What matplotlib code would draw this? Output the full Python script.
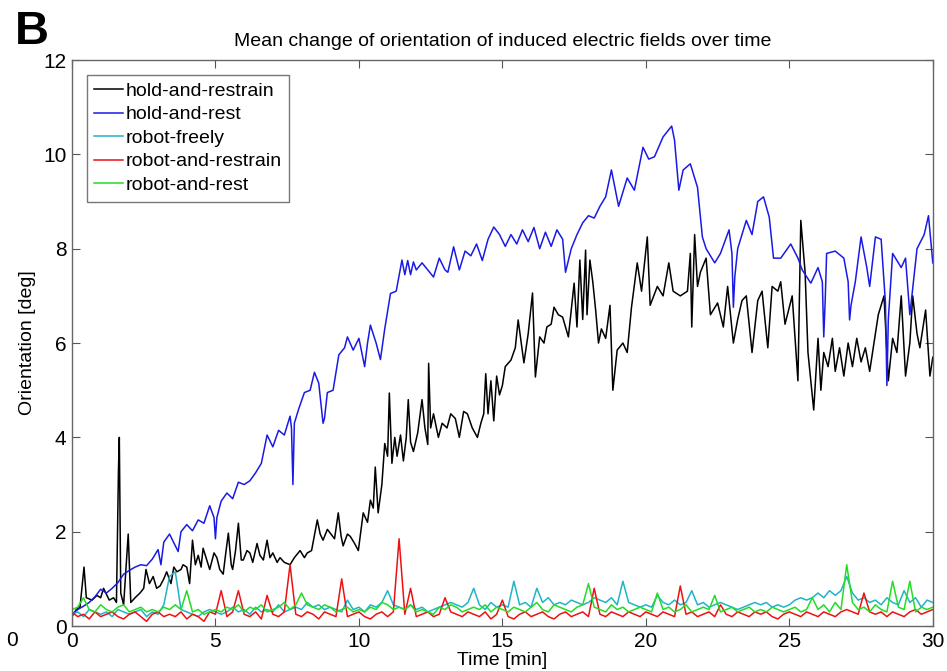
import numpy as np
import matplotlib
matplotlib.use("Agg")
import matplotlib.pyplot as plt

plt.rcParams["font.family"] = ["Liberation Sans", "DejaVu Sans"]

# hold-and-restrain (black), time [min] / orientation [deg]
restrain_t = [0.0, 0.15, 0.28, 0.42, 0.5, 0.7, 0.87, 1.0, 1.1, 1.3, 1.45, 1.55, 1.62, 1.65, 1.7, 1.8,
              1.96, 2.05, 2.2, 2.37, 2.5, 2.58, 2.7, 2.83, 2.95, 3.07, 3.2, 3.3, 3.45, 3.55, 3.66, 3.8,
              3.87, 4.0, 4.1, 4.2, 4.3, 4.4, 4.5, 4.57, 4.7, 4.8, 4.95, 5.05, 5.15, 5.27, 5.35, 5.45,
              5.55, 5.6, 5.7, 5.8, 5.9, 5.97, 6.1, 6.2, 6.3, 6.45, 6.55, 6.67, 6.8, 6.9, 7.0, 7.15,
              7.25, 7.4, 7.6, 7.75, 7.95, 8.1, 8.2, 8.35, 8.55, 8.65, 8.75, 8.9, 9.0, 9.15, 9.28, 9.38,
              9.45, 9.6, 9.7, 9.85, 9.98, 10.15, 10.3, 10.4, 10.5, 10.57, 10.67, 10.8, 10.9, 11.0, 11.06,
              11.15, 11.25, 11.33, 11.45, 11.55, 11.65, 11.72, 11.8, 11.9, 12.05, 12.2, 12.3, 12.4,
              12.43, 12.5, 12.6, 12.77, 12.9, 13.07, 13.2, 13.36, 13.5, 13.65, 13.78, 13.95, 14.13,
              14.25, 14.35, 14.42, 14.5, 14.6, 14.7, 14.8, 14.9, 15.0, 15.1, 15.3, 15.45, 15.55, 15.75,
              15.9, 16.05, 16.15, 16.3, 16.45, 16.55, 16.7, 16.8, 16.95, 17.1, 17.3, 17.5, 17.6, 17.7,
              17.8, 17.9, 17.95, 18.05, 18.15, 18.25, 18.35, 18.45, 18.6, 18.75, 18.85, 19.0, 19.2,
              19.35, 19.5, 19.7, 19.85, 20.05, 20.15, 20.4, 20.6, 20.8, 20.95, 21.2, 21.45, 21.55, 21.6,
              21.7, 21.8, 21.9, 22.1, 22.25, 22.5, 22.7, 22.85, 23.05, 23.2, 23.35, 23.5, 23.7, 23.9,
              24.05, 24.25, 24.4, 24.6, 24.7, 24.85, 25.1, 25.3, 25.4, 25.55, 25.65, 25.85, 26.0, 26.1,
              26.2, 26.35, 26.5, 26.6, 26.75, 26.9, 27.05, 27.2, 27.35, 27.5, 27.65, 27.8, 27.95, 28.1,
              28.3, 28.45, 28.6, 28.75, 28.9, 29.05, 29.2, 29.3, 29.45, 29.55, 29.75, 29.9, 30.0]
restrain_v = [0.2, 0.35, 0.4, 1.25, 0.6, 0.55, 0.65, 0.6, 0.8, 0.55, 0.6, 0.5, 3.3, 4.0, 0.7, 0.45,
              1.95, 0.5, 0.6, 0.7, 0.8, 1.2, 0.9, 1.05, 0.8, 0.85, 1.0, 1.15, 0.9, 1.25, 1.15, 1.2,
              1.3, 1.25, 0.9, 1.82, 1.3, 1.5, 1.25, 1.65, 1.4, 1.2, 1.55, 1.45, 1.2, 1.1, 1.5, 1.97,
              1.3, 1.2, 1.6, 2.18, 1.4, 1.4, 1.6, 1.55, 1.35, 1.75, 1.5, 1.4, 1.82, 1.45, 1.55, 1.35,
              1.45, 1.35, 1.3, 1.45, 1.6, 1.45, 1.55, 1.6, 2.25, 1.95, 1.82, 2.05, 1.97, 1.85, 2.4, 1.9,
              1.7, 1.95, 1.9, 1.75, 1.6, 2.4, 2.2, 2.67, 2.5, 3.37, 2.4, 3.0, 3.87, 3.6, 4.94,
              3.45, 4.0, 3.6, 4.05, 3.5, 4.0, 4.8, 3.9, 3.7, 4.1, 4.8, 4.2, 3.85,
              5.57, 4.2, 4.5, 4.0, 4.3, 4.2, 4.5, 4.4, 4.0, 4.55, 4.5, 4.2, 4.0,
              4.3, 4.5, 5.35, 4.5, 5.2, 4.35, 5.3, 4.9, 5.1, 5.5, 5.64, 5.9, 6.49, 5.58,
              6.2, 7.06, 5.28, 6.13, 6.0, 6.34, 6.4, 6.76, 6.6, 6.55, 6.13, 7.27, 6.34, 7.76,
              6.5, 7.97, 6.6, 7.76, 7.3, 6.7, 6.0, 6.3, 6.1, 6.8, 5.0, 5.85, 6.0,
              5.8, 6.76, 7.7, 7.1, 8.25, 6.8, 7.2, 7.0, 7.7, 7.1, 7.0, 7.1, 7.9, 6.34,
              8.3, 7.2, 7.5, 7.8, 6.6, 6.85, 6.34, 7.2, 6.0, 6.5, 6.9, 7.0, 5.8, 6.9,
              7.1, 5.9, 7.2, 7.1, 7.3, 6.4, 7.0, 5.2, 8.6, 7.5, 5.8, 4.58, 6.1, 5.0,
              5.8, 5.5, 6.1, 5.4, 5.9, 5.3, 6.0, 5.5, 6.1, 5.6, 5.9, 5.4, 6.0, 6.6,
              7.0, 5.2, 6.1, 5.8, 7.0, 5.3, 6.0, 7.0, 6.2, 5.9, 6.7, 5.3, 5.7]

# hold-and-rest (blue)
rest_t = [0.0, 0.2, 0.4, 0.6, 0.8, 1.0, 1.2, 1.4, 1.6, 1.8, 2.0, 2.2, 2.4, 2.6, 2.8, 3.0, 3.1, 3.2,
          3.4, 3.6, 3.7, 3.8, 4.0, 4.2, 4.4, 4.6, 4.8, 4.95, 5.0, 5.05, 5.2, 5.4, 5.6, 5.8, 6.0, 6.2,
          6.4, 6.6, 6.8, 7.0, 7.2, 7.4, 7.6, 7.65, 7.7, 7.75, 7.9, 8.1, 8.3, 8.45, 8.6, 8.75, 8.8,
          8.9, 9.1, 9.3, 9.5, 9.6, 9.8, 10.0, 10.1, 10.2, 10.3, 10.4, 10.6, 10.75, 10.9, 11.1, 11.3,
          11.5, 11.6, 11.7, 11.8, 11.9, 12.0, 12.2, 12.4, 12.6, 12.8, 13.0, 13.1, 13.3, 13.5, 13.7,
          13.9, 14.1, 14.3, 14.5, 14.7, 14.9, 15.1, 15.3, 15.5, 15.7, 15.9, 16.1, 16.3, 16.5, 16.7,
          16.9, 17.1, 17.2, 17.4, 17.6, 17.8, 18.0, 18.2, 18.4, 18.6, 18.8, 19.05, 19.35, 19.6, 19.9,
          20.1, 20.3, 20.6, 20.9, 21.0, 21.15, 21.3, 21.55, 21.8, 21.97, 22.1, 22.4, 22.6, 22.9, 23.0,
          23.05, 23.1, 23.2, 23.5, 23.7, 23.9, 24.1, 24.3, 24.45, 24.7, 25.05, 25.3, 25.45, 25.75,
          26.0, 26.15, 26.2, 26.25, 26.3, 26.6, 26.9, 27.05, 27.1, 27.15, 27.3, 27.5, 27.7, 27.8,
          28.0, 28.2, 28.35, 28.4, 28.45, 28.6, 28.9, 29.05, 29.2, 29.45, 29.7, 29.85, 30.0]
rest_v = [0.25, 0.35, 0.42, 0.5, 0.62, 0.78, 0.7, 0.8, 0.92, 1.1, 1.18, 1.25, 1.3, 1.28, 1.42, 1.62, 1.3, 1.78,
          1.95, 1.7, 1.58, 2.0, 2.15, 2.02, 2.25, 2.18, 2.55, 2.3, 1.85, 2.3, 2.65, 2.82, 2.7, 3.05, 3.0, 3.08,
          3.25, 3.45, 4.05, 3.8, 4.15, 4.05, 4.45, 4.2, 3.0, 4.3, 4.6, 4.95, 5.0, 5.38, 5.15, 4.3, 4.4,
          4.95, 5.0, 5.75, 5.9, 6.13, 5.85, 6.1, 5.8, 5.5, 6.0, 6.38, 6.0, 5.65, 6.3, 7.05, 7.1,
          7.76, 7.45, 7.75, 7.45, 7.72, 7.55, 7.7, 7.55, 7.4, 7.8, 7.55, 7.5, 8.04, 7.55, 7.95,
          7.85, 8.1, 7.75, 8.2, 8.46, 8.3, 8.05, 8.3, 8.1, 8.4, 8.15, 8.45, 8.0, 8.35, 8.05,
          8.4, 8.2, 7.5, 8.0, 8.3, 8.55, 8.7, 8.65, 8.9, 9.1, 9.67, 8.9, 9.5, 9.24, 10.15,
          9.9, 9.95, 10.37, 10.6, 10.3, 9.24, 9.67, 9.8, 9.3, 8.25, 8.0, 7.7, 7.9, 8.4, 7.9,
          6.76, 7.4, 8.0, 8.6, 8.3, 9.0, 9.1, 8.67, 7.8, 7.8, 8.1, 7.8, 7.55, 7.27,
          7.6, 7.3, 6.13, 6.9, 7.9, 7.95, 7.8, 7.3, 6.49, 6.8, 7.3, 8.25, 7.6, 7.2,
          8.25, 8.2, 6.85, 5.1, 6.5, 7.9, 7.6, 7.8, 6.6, 8.0, 8.3, 8.7, 7.7]

# robot series, sampled every 0.2 min from 0 to 30 (one row = 2 min)
freely_v = [0.25, 0.3, 0.2, 0.35, 0.3, 0.25, 0.3, 0.2, 0.35, 0.3,
            0.25, 0.3, 0.35, 0.2, 0.3, 0.25, 0.45, 1.05, 1.15, 0.35,
            0.3, 0.25, 0.2, 0.3, 0.35, 0.3, 0.25, 0.3, 0.4, 0.3,
            0.35, 0.25, 0.4, 0.3, 0.35, 0.3, 0.45, 0.3, 0.35, 0.4,
            0.35, 0.5, 0.4, 0.45, 0.35, 0.4, 0.35, 0.3, 0.55, 0.35,
            0.4, 0.3, 0.45, 0.4, 0.5, 0.75, 0.45, 0.4, 0.35, 0.45,
            0.35, 0.4, 0.3, 0.35, 0.4, 0.45, 0.5, 0.45, 0.4, 0.5,
            0.8, 0.45, 0.35, 0.5, 0.4, 0.45, 0.4, 0.95, 0.45, 0.5,
            0.4, 0.8, 0.5, 0.6, 0.45, 0.5, 0.45, 0.55, 0.5, 0.45,
            0.5, 0.6, 0.55, 0.5, 0.6, 0.45, 0.95, 0.5, 0.45, 0.4,
            0.45, 0.4, 0.65, 0.5, 0.45, 0.55, 0.45, 0.5, 0.75, 0.45,
            0.5, 0.4, 0.45, 0.5, 0.45, 0.4, 0.35, 0.4, 0.45, 0.5,
            0.45, 0.5, 0.4, 0.45, 0.4, 0.45, 0.55, 0.6, 0.55, 0.6,
            0.7, 0.6, 0.75, 0.65, 0.75, 1.05, 0.7, 0.55, 0.6, 0.5,
            0.55, 0.45, 0.6, 0.5, 0.45, 0.75, 0.5, 0.6, 0.4, 0.55,
            0.5]
robot_restrain_v = [0.3, 0.2, 0.25, 0.15, 0.3, 0.2, 0.25, 0.3, 0.2, 0.15,
                    0.25, 0.3, 0.2, 0.1, 0.25, 0.3, 0.2, 0.25, 0.2, 0.3,
                    0.15, 0.25, 0.2, 0.1, 0.3, 0.25, 0.75, 0.2, 0.3, 0.75,
                    0.25, 0.2, 0.3, 0.15, 0.65, 0.25, 0.2, 0.3, 1.3, 0.25,
                    0.2, 0.3, 0.25, 0.15, 0.3, 0.25, 0.2, 1.0, 0.2, 0.25,
                    0.3, 0.2, 0.15, 0.25, 0.3, 0.2, 0.3, 1.85, 0.25, 0.8,
                    0.2, 0.25, 0.3, 0.2, 0.25, 0.6, 0.3, 0.25, 0.2, 0.3,
                    0.25, 0.2, 0.3, 0.15, 0.25, 0.55, 0.2, 0.15, 0.25, 0.3,
                    0.2, 0.25, 0.3, 0.2, 0.15, 0.25, 0.3, 0.2, 0.25, 0.3,
                    0.2, 0.8, 0.25, 0.2, 0.3, 0.25, 0.2, 0.3, 0.25, 0.2,
                    0.3, 0.25, 0.2, 0.3, 0.25, 0.2, 0.85, 0.25, 0.3, 0.2,
                    0.25, 0.3, 0.2, 0.45, 0.25, 0.2, 0.3, 0.25, 0.2, 0.3,
                    0.25, 0.3, 0.2, 0.15, 0.25, 0.3, 0.25, 0.2, 0.3, 0.25,
                    0.2, 0.3, 0.25, 0.2, 0.3, 0.35, 0.3, 0.25, 0.7, 0.3,
                    0.25, 0.3, 0.2, 0.3, 0.25, 0.2, 0.3, 0.35, 0.25, 0.3,
                    0.35]
robot_rest_v = [0.35, 0.4, 0.6, 0.35, 0.3, 0.45, 0.35, 0.3, 0.4, 0.45,
                0.3, 0.35, 0.4, 0.3, 0.35, 0.3, 0.4, 0.35, 0.45, 0.35,
                0.75, 0.3, 0.35, 0.25, 0.3, 0.35, 0.3, 0.4, 0.35, 0.45,
                0.3, 0.4, 0.35, 0.45, 0.3, 0.35, 0.4, 0.5, 0.35, 0.45,
                0.7, 0.45, 0.4, 0.35, 0.45, 0.4, 0.3, 0.35, 0.4, 0.3,
                0.35, 0.3, 0.4, 0.35, 0.5, 0.45, 0.35, 0.4, 0.35, 0.45,
                0.3, 0.35, 0.3, 0.25, 0.4, 0.35, 0.45, 0.4, 0.3, 0.35,
                0.4, 0.35, 0.45, 0.3, 0.4, 0.35, 0.3, 0.4, 0.35, 0.3,
                0.4, 0.5, 0.35, 0.3, 0.45, 0.4, 0.35, 0.3, 0.4, 0.45,
                0.9, 0.4, 0.35, 0.3, 0.45, 0.35, 0.4, 0.3, 0.35, 0.4,
                0.35, 0.3, 0.7, 0.35, 0.4, 0.3, 0.35, 0.45, 0.3, 0.35,
                0.4, 0.35, 0.65, 0.3, 0.35, 0.4, 0.3, 0.35, 0.4, 0.3,
                0.35, 0.3, 0.4, 0.35, 0.3, 0.35, 0.4, 0.3, 0.35, 0.6,
                0.35, 0.45, 0.3, 0.5, 0.35, 1.3, 0.5, 0.35, 0.4, 0.3,
                0.45, 0.35, 0.3, 0.95, 0.4, 0.35, 0.95, 0.3, 0.4, 0.35,
                0.4]
robot_t = np.arange(len(freely_v)) * 0.2

fig = plt.figure(figsize=(9.47, 6.71), dpi=100)
ax = fig.add_axes([0.076, 0.067, 0.909, 0.8435])

ax.plot(restrain_t, restrain_v, color="black", lw=1.1, label="hold-and-restrain")
ax.plot(rest_t, rest_v, color="#1a1ae6", lw=1.1, label="hold-and-rest")
ax.plot(robot_t, freely_v, color="#20b4c6", lw=1.1, label="robot-freely")
ax.plot(robot_t, robot_restrain_v, color="#ee1111", lw=1.1, label="robot-and-restrain")
ax.plot(robot_t, robot_rest_v, color="#22dd22", lw=1.1, label="robot-and-rest")

ax.set_xlim(0, 30)
ax.set_ylim(0, 12)
ax.set_xticks([0, 5, 10, 15, 20, 25, 30])
ax.set_yticks([0, 2, 4, 6, 8, 10, 12])
ax.tick_params(direction="in", length=6, width=0.8, color="#555555",
               top=True, right=True, labelsize=15, pad=4)
for s in ax.spines.values():
    s.set_color("#666666")
    s.set_linewidth(1.0)

ax.set_xlabel("Time [min]", fontsize=14, labelpad=1)
ax.set_ylabel("Orientation [deg]", fontsize=14, labelpad=5)
ax.set_title("Mean change of orientation of induced electric fields over time",
             fontsize=14, pad=10)

leg = ax.legend(loc="upper left", fontsize=14, frameon=True, fancybox=False,
                handlelength=1.5, handletextpad=0.1, labelspacing=0.3,
                borderpad=0.4, borderaxespad=0.75)
leg.get_frame().set_edgecolor("#555555")
leg.get_frame().set_linewidth(1.0)

fig.text(0.016, 0.985, "B", fontsize=34, fontweight="bold", va="top", ha="left")
fig.text(0.006, 0.046, "0", fontsize=15, va="center", ha="left")

fig.savefig("out.png", dpi=100)
